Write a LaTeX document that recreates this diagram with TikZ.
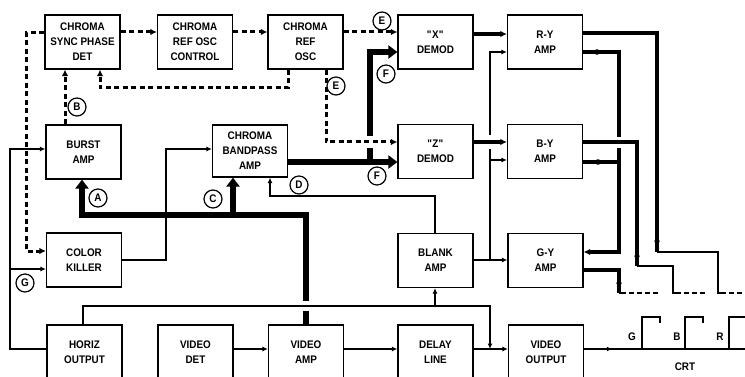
\documentclass[tikz,border=0pt]{standalone}
\usepackage{fontspec}
\setmainfont[FakeStretch=0.9]{Liberation Sans}
\usetikzlibrary{arrows.meta,decorations.markings}
\begin{document}
\begin{tikzpicture}[x=1pt,y=-1pt,
  bx/.style={draw,line width=1.2pt,align=center,minimum width=75pt,minimum height=54pt,inner sep=0pt,
     font=\fontsize{11}{15}\selectfont\bfseries},
  tl/.style={line width=1.1pt},
  tk/.style={line width=5.8pt},
  md/.style={line width=3.4pt},
  dsh/.style={line width=3pt,dash pattern=on 5pt off 3.5pt},
  dt/.style={line width=2.2pt,dash pattern=on 5pt off 3pt},
  sa/.style={-{Latex[length=5.5pt,width=5pt]}},
  da/.style={-{Latex[length=6.5pt,width=6.5pt]}},
  ba/.style={-{Triangle[length=9pt,width=13pt]}},
  ma/.style={-{Latex[length=6.5pt,width=6.5pt]}},
  lb/.style={circle,draw,line width=1.2pt,fill=white,minimum size=18pt,inner sep=0pt,font=\fontsize{11}{11}\selectfont\bfseries},
  tx/.style={font=\fontsize{11}{12}\selectfont\bfseries,inner sep=0pt},
  midar/.style={postaction={decorate},decoration={markings,mark=at position #1 with {\arrow{Latex[length=5.5pt,width=5pt]}}}},
]
\useasboundingbox (0,0) rectangle (745,377);
\clip (0,0) rectangle (745,377);

% boxes
\node[bx] (det) at (82.5,42) {CHROMA\\SYNC PHASE\\DET};
\node[bx] (ctrl) at (195,42) {CHROMA\\REF OSC\\CONTROL};
\node[bx] (osc) at (305.5,42) {CHROMA\\REF\\OSC};
\node[bx] (xdm) at (435.5,42) {\textquotedbl X\textquotedbl\\DEMOD};
\node[bx] (ry) at (545,42) {R-Y\\AMP};
\node[bx] (burst) at (83.5,152) {BURST\\AMP};
\node[bx,minimum height=52pt] (bp) at (250,151) {CHROMA\\BANDPASS\\AMP};
\node[bx] (zdm) at (435.5,151.5) {\textquotedbl Z\textquotedbl\\DEMOD};
\node[bx] (by) at (545,151.5) {B-Y\\AMP};
\node[bx] (killer) at (84,260) {COLOR\\KILLER};
\node[bx] (blank) at (435.5,260.5) {BLANK\\AMP};
\node[bx] (gy) at (545.5,260.5) {G-Y\\AMP};
\node[bx] (horiz) at (84.5,352) {HORIZ\\OUTPUT};
\node[bx] (vdet) at (195.5,352) {VIDEO\\DET};
\node[bx] (vamp) at (306,352) {VIDEO\\AMP};
\node[bx] (delay) at (435.5,352) {DELAY\\LINE};
\node[bx] (vout) at (546,352) {VIDEO\\OUTPUT};

% coordinates
\coordinate (y32) at (0,32);
\coordinate (k1) at (288,88); \coordinate (k2) at (100,88);
\coordinate (k3) at (326,142);
\coordinate (k4) at (26,33); \coordinate (k5) at (26,251);
\coordinate (k6) at (65,100);
\coordinate (g1) at (10,349); \coordinate (g2) at (10,149); \coordinate (g3) at (10,269);
\coordinate (c1) at (166,260); \coordinate (c2) at (166,149);
\coordinate (d1) at (435,196); \coordinate (d2) at (270,196);
\coordinate (p1) at (83,306); \coordinate (p2) at (490,306); \coordinate (p3) at (490,349); \coordinate (p4) at (435,306);
\coordinate (b1) at (490,260); \coordinate (b2) at (490,52); \coordinate (b3) at (490,160);
\coordinate (r) at (0,349); \coordinate (crt) at (750,349);
\coordinate (v1) at (306,215); \coordinate (v2) at (82,215); \coordinate (v3) at (233,215);
\coordinate (v0) at (306,311); \coordinate (v0b) at (306,301);
\coordinate (f1) at (0,162); \coordinate (f2) at (370,162); \coordinate (f3) at (370,52);
\coordinate (m1) at (0,34); \coordinate (m2) at (0,142);

% thin lines
\draw[tl,sa] (horiz.west |- g1) -- (g1) -- (g2) -- (burst.west |- g2);
\draw[tl,sa] (g3) -- (killer.west |- g3);
\draw[tl,sa] (killer.east |- c1) -- (c1) -- (c2) -- (bp.west |- c2);
\draw[tl,sa] (blank.north -| d1) -- (d1) -- (d2) -- (bp.south -| d2);
\draw[tl,sa] (horiz.north -| p1) -- (p1) -- (p2) -- (p3);
\draw[tl,sa] (p4) -- (blank.south -| p4);
\draw[tl,sa] (blank.east |- b1) -- (gy.west |- b1);
\draw[tl,sa] (b1) -- (b2) -- (ry.west |- b2);
\draw[tl,sa] (b3) -- (by.west |- b3);
\draw[tl,sa] (vdet.east |- r) -- (vamp.west |- r);
\draw[tl,sa] (vamp.east |- r) -- (delay.west |- r);
\draw[tl,sa] (delay.east |- r) -- (vout.west |- r);
\draw[tl,midar=0.17] (vout.east |- r) -- (crt);

% thick video / chroma
\draw[tk] (vamp.north -| v1) -- (v0);
\draw[tk,ba] (v0b) -- (v1) -- (v2) -- (burst.south -| v2);
\draw[tk,ba] (v3) -- (bp.south -| v3);
\draw[tk,ba] (bp.east |- f1) -- (zdm.west |- f1);
\draw[tk,ba] (f2) -- (f3) -- (xdm.west |- f3);

% dashed
\draw[dsh,da] (det.east |- y32) -- (ctrl.west |- y32);
\draw[dsh,da] (ctrl.east |- y32) -- (osc.west |- y32);
\draw[dsh,da] (osc.east |- y32) -- (xdm.west |- y32);
\draw[dsh,da] (osc.south -| k1) -- (k1) -- (k2) -- (det.south -| k2);
\fill[white] (363,136) rectangle (377,148);
\draw[dsh,da] (osc.south -| k3) -- (k3) -- (zdm.west |- k3);
\draw[dsh,da] (det.west |- k4) -- (k4) -- (k5) -- (killer.west |- k5);
\draw[dsh,da] (burst.north -| k6) -- (det.south -| k6);

% demod to amps
\draw[md,ma] (xdm.east |- m1) -- (ry.west |- m1);
\fill[white] (486,135) rectangle (494,149);
\draw[md,ma] (zdm.east |- m2) -- (by.west |- m2);

% outputs
\coordinate (o1) at (657,33); \coordinate (o2) at (657,252);
\coordinate (o3) at (718,252); \coordinate (o4) at (718,293);
\draw[md] (ry.east |- o1) -- (o1) -- (o2);
\draw[md,ma] (657,230) -- (657,247);
\draw[tl] (o2) -- (o3) -- (o4) -- (726,293);
\draw[dt] (729,293) -- (750,293);

\coordinate (q1) at (637,142); \coordinate (q2) at (637,266);
\coordinate (q3) at (673,266); \coordinate (q4) at (673,293);
\draw[md] (by.east |- q1) -- (q1) -- (q2);
\draw[md,ma] (637,245) -- (637,262);
\draw[tl] (q2) -- (q3) -- (q4) -- (681,293);
\draw[dt] (684,293) -- (705,293);

\coordinate (s1) at (619,270); \coordinate (s2) at (619,293);
\draw[md] (gy.east |- s1) -- (s1) -- (s2);
\draw[md,ma] (619,275) -- (619,289);
\draw[tl] (s2) -- (626,293);
\draw[dt] (629,293) -- (660,293);

\coordinate (t1) at (619,52); \coordinate (t2) at (619,137);
\coordinate (t3) at (619,148); \coordinate (t4) at (619,252);
\coordinate (t5) at (619,162);
\draw[md] (ry.east |- t1) -- (t1) -- (t2);
\draw[md,ma] (t3) -- (t4) -- (gy.east |- t4);
\draw[md] (by.east |- t5) -- (t5);
\fill (597,52) circle (2.8pt);
\fill (598,162) circle (2.8pt);

% CRT guns
\draw[tl] (642,349) -- (642,317);
\draw[line width=2.6pt] (641,317) -- (660,317) -- (660,323);
\draw[tl] (685,349) -- (685,317);
\draw[line width=2.6pt] (684,317) -- (703,317) -- (703,323);
\draw[tl] (729,349) -- (729,317);
\draw[line width=2.6pt] (728,317) -- (747,317) -- (747,323);
\node[tx] (lg) at (632,337) {G};
\node[tx] (lbb) at (677,337) {B};
\node[tx] (lr) at (720,337) {R};
\node[tx] (lcrt) at (685,367) {CRT};

% circled labels
\node[lb] (la) at (98,198) {A};
\node[lb] (lbl) at (77,107) {B};
\node[lb] (lc) at (213,199) {C};
\node[lb] (ld) at (299,185) {D};
\node[lb] (le1) at (382,21) {E};
\node[lb] (le2) at (336,86) {E};
\node[lb] (lf1) at (386,74) {F};
\node[lb] (lf2) at (377,176) {F};
\node[lb] (lgg) at (25,283) {G};
\end{tikzpicture}
\end{document}
